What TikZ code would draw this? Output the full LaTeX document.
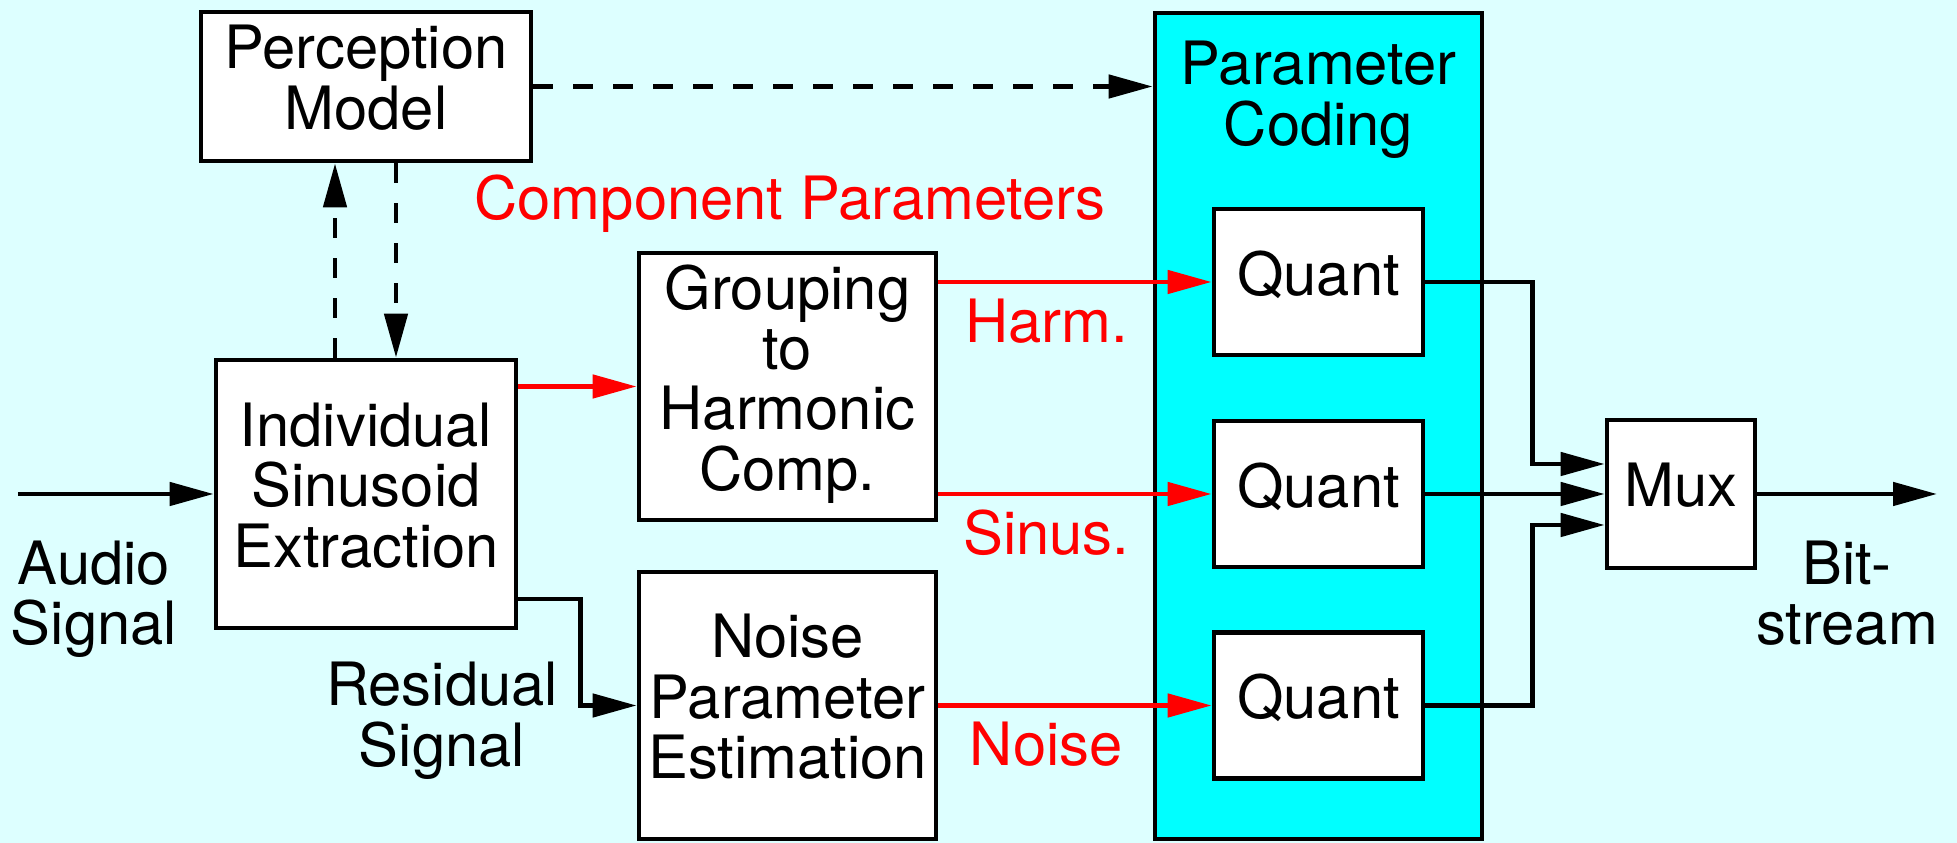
\documentclass[tikz,border=0pt]{standalone}
\usepackage{fontspec}
\setmainfont{TeX Gyre Heros}
\usepackage{tikz}
\usetikzlibrary{arrows.meta}
\definecolor{paleaqua}{RGB}{221,255,255}
\definecolor{aqua}{RGB}{0,255,255}
\tikzstyle{block} = [rectangle, draw=black, fill=white, line width=1.35pt, align=center, inner sep=0.5mm, execute at end node=\strut]
\tikzstyle{quant} = [block, minimum width=2.09cm, minimum height=1.46cm]
\tikzstyle{sigtext} = [align=center, execute at end node=\strut]
\tikzstyle{partext} = [text=red, anchor=base]

\begin{document}
\begin{tikzpicture}[node distance=2.12cm, font=\fontsize{17}{17.2}\selectfont]
    \tikzset{sigptr/.style={line width=1.35pt, -{Triangle[length=4.4mm,width=2.3mm]}},
             dashptr/.style={sigptr, dash pattern=on 2mm off 2mm},
             redptr/.style={sigptr, draw=red}}
    \fill[paleaqua] (0,0) rectangle (19.57,8.43);
    \useasboundingbox (0,0) rectangle (19.57,8.43);

    \node (sinExtract) [block, minimum width=3cm, minimum height=2.68cm] at (3.66,3.49) {Individual\\Sinusoid\\Extraction};
    \node (percModel) [block, minimum width=3.3cm, minimum height=1.49cm, node distance=4.075cm, above of=sinExtract] {Perception\\Model};
    \node (harmGroup) [block, minimum width=2.97cm, minimum height=2.67cm, node distance=4.215cm, right of=sinExtract, yshift=1.075cm] {Grouping\\to\\Harmonic\\Comp.};
    \node (noiseEst) [block, minimum width=2.97cm, minimum height=2.67cm, node distance=3.19cm, below of=harmGroup] {Noise\\Parameter\\Estimation};

    \node (paramCode) [block, fill=aqua, minimum width=3.27cm, minimum height=8.26cm, node distance=5.31cm, right of=harmGroup, yshift=-0.395cm,
        label={[align=center, anchor=north, inner sep=0pt, yshift=-3mm]north:Parameter\\Coding}] {};
    \node (quantB) [quant, node distance=9.525cm, right of=sinExtract] {Quant};
    \node (quantA) [quant, above of=quantB] {Quant};
    \node (quantC) [quant, node distance=2.115cm, below of=quantB] {Quant};
    \node (mux) [block, minimum size=1.48cm, node distance=3.625cm, right of=quantB] {Mux};

    \node (audioLbl) [sigtext] at (0.94,2.41) {Audio\\Signal};
    \node (residLbl) [sigtext] at (4.42,1.195) {Residual\\Signal};
    \node (bitLbl) [sigtext] at (18.47,2.41) {Bit-\\stream};
    \node (compLbl) [partext] at (7.90,6.23) {Component Parameters};

    \coordinate (audioIn) at (0.18,3.49);
    \coordinate (bitOut) at (19.37,3.49);

    \draw [sigptr] (audioIn) -- (sinExtract.west);
    \draw [dashptr] ([xshift=-3.1mm]sinExtract.north) -- ([xshift=-3.1mm]percModel.south);
    \draw [dashptr] ([xshift=3mm]percModel.south) -- ([xshift=3mm]sinExtract.north);
    \draw [dashptr] (percModel.east) -- (percModel.east -| paramCode.west);

    \draw [redptr] (sinExtract.east |- harmGroup.west) -- (harmGroup.west);
    \draw [sigptr] ([yshift=-10.5mm]sinExtract.east) -- ++(0.62,0) |- (noiseEst.west);

    \draw [redptr] (quantA.west -| harmGroup.east) -- node[partext, pos=.395, yshift=-6.05mm] {Harm.} (quantA.west);
    \draw [redptr] (quantB.west -| harmGroup.east) -- node[partext, pos=.395, yshift=-6.05mm] {Sinus.} (quantB.west);
    \draw [redptr] (noiseEst.east) -- node[partext, pos=.395, yshift=-6.05mm] {Noise} (quantC.west);

    \draw [sigptr] (quantA.east) -- ++(1.07,0) |- ([yshift=3mm]mux.west);
    \draw [sigptr] (quantB.east) -- (mux.west);
    \draw [sigptr] (quantC.east) -- ++(1.07,0) |- ([yshift=-3.1mm]mux.west);
    \draw [sigptr] (mux.east) -- (bitOut);
\end{tikzpicture}
\end{document}
